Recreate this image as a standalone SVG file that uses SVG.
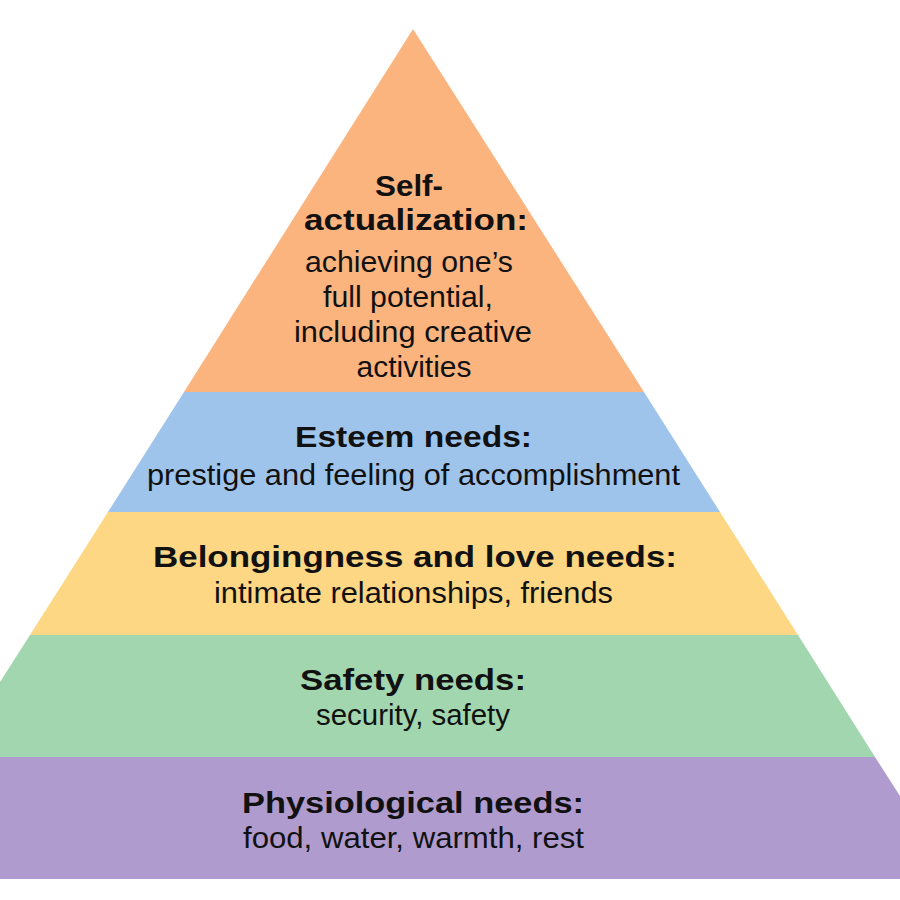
<svg xmlns="http://www.w3.org/2000/svg" width="900" height="900" viewBox="0 0 900 900">
<style>
.t{font-family:"Liberation Sans",Arial,sans-serif;font-weight:bold;font-size:30px;fill:#111;text-anchor:middle}
.b{font-family:"Liberation Sans",Arial,sans-serif;font-size:29px;fill:#111;text-anchor:middle}
</style>
<rect width="900" height="900" fill="#ffffff"/>
<g id="self-actualization">
<polygon points="413,29 644,392 184,392" fill="#FBB47E"/>
<text class="t" x="409" y="196" textLength="68" lengthAdjust="spacingAndGlyphs">Self-</text>
<text class="t" x="416" y="230" textLength="224" lengthAdjust="spacingAndGlyphs">actualization:</text>
<text class="b" x="409" y="272" textLength="208" lengthAdjust="spacingAndGlyphs">achieving one’s</text>
<text class="b" x="408" y="307" textLength="170" lengthAdjust="spacingAndGlyphs">full potential,</text>
<text class="b" x="413" y="342" textLength="238" lengthAdjust="spacingAndGlyphs">including creative</text>
<text class="b" x="414" y="377" textLength="115" lengthAdjust="spacingAndGlyphs">activities</text>
</g>
<g id="esteem">
<polygon points="184,392 644,392 720,512 108,512" fill="#9FC4EC"/>
<text class="t" x="413.5" y="447" textLength="237" lengthAdjust="spacingAndGlyphs">Esteem needs:</text>
<text class="b" x="413.5" y="485" textLength="533" lengthAdjust="spacingAndGlyphs">prestige and feeling of accomplishment</text>
</g>
<g id="belongingness">
<polygon points="108,512 720,512 798,635 30,635" fill="#FDD783"/>
<text class="t" x="415" y="567" textLength="524" lengthAdjust="spacingAndGlyphs">Belongingness and love needs:</text>
<text class="b" x="413.5" y="603" textLength="399" lengthAdjust="spacingAndGlyphs">intimate relationships, friends</text>
</g>
<g id="safety">
<polygon points="30,635 798,635 875,757 0,757 0,682" fill="#A2D6AE"/>
<text class="t" x="413" y="690" textLength="226" lengthAdjust="spacingAndGlyphs">Safety needs:</text>
<text class="b" x="413" y="725" textLength="194" lengthAdjust="spacingAndGlyphs">security, safety</text>
</g>
<g id="physiological">
<polygon points="0,757 875,757 900,796 900,879 0,879" fill="#B09BCE"/>
<text class="t" x="413" y="813" textLength="342" lengthAdjust="spacingAndGlyphs">Physiological needs:</text>
<text class="b" x="413.5" y="848" textLength="341" lengthAdjust="spacingAndGlyphs">food, water, warmth, rest</text>
</g>
<g id="connectors"></g>
</svg>
